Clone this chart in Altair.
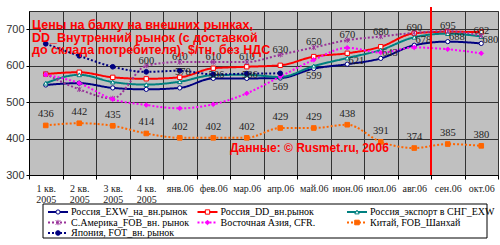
import altair as alt
import pandas as pd

categories = ["1 кв.\n2005", "2 кв.\n2005", "3 кв.\n2005", "4 кв.\n2005", "янв.06", "фев.06",
              "мар.06", "апр.06", "май.06", "июн.06", "июл.06", "авг.06", "сен.06", "окт.06"]

series_names = ["Россия_EXW_на_вн.рынок", "Россия_DD_вн.рынок", "Россия_экспорт в СНГ_EXW",
                "С.Америка_FOB_вн. рынок", "Восточная Азия, CFR.", "Китай, FOB_Шанхай",
                "Япония, FOT_вн. рынок"]

exw = [547, 552, 539, 535, 539, 565, 565, 566, 592, 604, 620, 656, 666, 661]
dd = [577, 582, 568, 564, 568, 593, 597, 601, 625, 634, 652, 689, 693, 692]
cis = [552, 575, 555, 548, 556, 574, 575, 569, 599, 621, 643, 678, 688, 680]
sam = [577, 535, 510, 600, 610, 610, 610, 630, 650, 670, 680, 690, 695, 682]
asia = [575, 552, 508, 492, 483, 494, 524, 570, 616, 649, 636, 650, 645, 634]
china = [436, 442, 435, 414, 402, 402, 402, 429, 429, 438, 391, 374, 385, 380]
japan = [660, 627, 597, 583, 586, 576, 578, 579, None, None, None, None, None, None]

sam_labels = [None, None, None, 600, 610, 610, 610, 630, 650, 670, 680, 690, 695, 682]
cis_labels = [None, None, None, None, None, None, None, 569, 599, 621, 643, 678, 688, 680]
china_labels = [436, 442, 435, 414, 402, 402, 402, 429, 429, 438, 391, 374, 385, 380]
japan_labels = [None, None, None, None, 578, 586, 586, None, None, None, None, None, None, None]

title_lines = ["Цены на балку на внешних рынках,",
               "DD_Внутренний рынок (с доставкой",
               "до склада потребителя), $/тн, без НДС"]
source_text = "Данные: © Rusmet.ru, 2006"

colors = ["#000080", "#ff0000", "#008080", "#993399", "#ff00ff", "#ff6600", "#000080"]
fills = ["#ffffff", "#ffffff", "#ffffff", "#993399", "#ff00ff", "#ff6600", "#000080"]
dashes = [[1, 0], [1, 0], [1, 0], [2, 2], [2, 2], [2, 2], [2, 2]]
widths = [2, 2, 2, 1, 1, 1, 1]
shapes = ["circle", "square", "triangle-up", "M-1,-1L1,1M-1,1L1,-1M0,-1.2L0,1.2",
          "diamond", "square", "circle"]
sizes = [18, 22, 26, 26, 28, 30, 12]

all_vals = [exw, dd, cis, sam, asia, china, japan]
rows = []
for name, vals in zip(series_names, all_vals):
    for c, v in zip(categories, vals):
        if v is not None:
            rows.append({"series": name, "cat": c, "value": v})
df = pd.DataFrame(rows)


def label_df(labels, vals):
    return pd.DataFrame([{"cat": c, "value": v, "label": l}
                         for c, v, l in zip(categories, vals, labels) if l is not None])


sam_df = label_df(sam_labels, sam)
china_df = label_df(china_labels, china)
cis_df = label_df(cis_labels, cis)
cis_df_below = cis_df[cis_df["cat"].isin(["апр.06", "май.06"])]
cis_df_right = cis_df[~cis_df["cat"].isin(["апр.06", "май.06"])]
jp_df = label_df(japan_labels, japan)

color_scale = alt.Scale(domain=series_names, range=colors)
fill_scale = alt.Scale(domain=series_names, range=fills)
dash_scale = alt.Scale(domain=series_names, range=dashes)
width_scale = alt.Scale(domain=series_names, range=widths)
shape_scale = alt.Scale(domain=series_names, range=shapes)
size_scale = alt.Scale(domain=series_names, range=sizes)

xscale = alt.Scale(type="band", domain=categories, paddingInner=0, paddingOuter=0)
X = alt.X("cat:N", scale=xscale, bandPosition=0.5,
          axis=alt.Axis(title=None, tickBand="extent", labelAngle=0,
                        labelExpr="split(datum.label, '\\n')", labelFont="Liberation Serif",
                        labelFontSize=10, labelLineHeight=11, labelColor="#222",
                        labelPadding=4, tickSize=4, tickColor="#000", domainColor="#000",
                        grid=True, gridColor="#333", gridOpacity=1, labelBaseline="top"))
Y = alt.Y("value:Q", scale=alt.Scale(domain=[300, 750], nice=False, zero=False),
          axis=alt.Axis(title=None, values=list(range(300, 751, 50)), labelFont="Liberation Sans",
                        labelFontSize=11, labelColor="#333", tickSize=3, tickColor="#000",
                        labelPadding=2, domainColor="#000", grid=True, gridColor="#333",
                        gridOpacity=1))

lines = alt.Chart(df).mark_line(interpolate="monotone").encode(
    x=X, y=Y,
    color=alt.Color("series:N", scale=color_scale, legend=None),
    strokeDash=alt.StrokeDash("series:N", scale=dash_scale, legend=None),
    strokeWidth=alt.StrokeWidth("series:N", scale=width_scale, legend=None),
)

points = alt.Chart(df).mark_point(filled=False, strokeWidth=1, opacity=1).encode(
    x=alt.X("cat:N", scale=xscale, bandPosition=0.5), y="value:Q",
    stroke=alt.Stroke("series:N", scale=color_scale, legend=None),
    fill=alt.Fill("series:N", scale=fill_scale, legend=None),
    shape=alt.Shape("series:N", scale=shape_scale, legend=None),
    size=alt.Size("series:N", scale=size_scale, legend=None),
)


def text_layer(d, dx=0, dy=0):
    return alt.Chart(d).mark_text(font="Liberation Serif", fontSize=10.5, color="#222",
                                  dx=dx, dy=dy, baseline="middle").encode(
        x=alt.X("cat:N", scale=xscale, bandPosition=0.5), y="value:Q",
        text=alt.Text("label:Q", format="d"))


t_sam = text_layer(sam_df, dy=-5)
t_china = text_layer(china_df, dy=-11)
t_cis1 = text_layer(cis_df_below, dy=10)
t_cis2 = text_layer(cis_df_right, dx=9, dy=3)
t_jp = text_layer(jp_df, dx=3, dy=1)

red_line = alt.Chart(pd.DataFrame({"cat": [categories[12]]})).mark_rule(
    color="#ff0000", strokeWidth=2).encode(
    x=alt.X("cat:N", scale=xscale, bandPosition=0), y=alt.value(-4), y2=alt.value(164))

title = alt.Chart(pd.DataFrame({"a": [0]})).mark_text(
    align="left", baseline="middle", font="Liberation Sans", fontWeight="bold",
    fontSize=12.5, lineHeight=12.5, color="#ff0000").encode(
    x=alt.value(3), y=alt.value(14), text=alt.value(title_lines))

source = alt.Chart(pd.DataFrame({"a": [0]})).mark_text(
    align="left", baseline="middle", font="Liberation Sans", fontWeight="bold",
    fontSize=12, color="#ff0000").encode(
    x=alt.value(201), y=alt.value(137), text=alt.value(source_text))

main = alt.layer(lines, points, t_sam, t_china, t_cis1, t_cis2, t_jp, red_line, title, source)

# legend drawn below
legend_df = pd.DataFrame({"series": series_names,
                          "col": [i % 3 for i in range(len(series_names))],
                          "row": [i // 3 for i in range(len(series_names))]})
LX = alt.X("col:Q", scale=alt.Scale(domain=[0, 2], range=[19, 318]), axis=None)
LY = alt.Y("row:Q", scale=alt.Scale(domain=[0, 2], range=[201, 222]), axis=None)

box = alt.Chart(pd.DataFrame({"a": [0]})).mark_rect(
    fill="#ffffff", stroke="#000", strokeWidth=1).encode(
    x=alt.value(14), x2=alt.value(458), y=alt.value(193), y2=alt.value(227))

leg_rule = alt.Chart(legend_df).mark_rule(x2Offset=20).encode(
    x=LX, x2="col:Q", y=LY,
    color=alt.Color("series:N", scale=color_scale, legend=None),
    strokeDash=alt.StrokeDash("series:N", scale=dash_scale, legend=None),
    strokeWidth=alt.StrokeWidth("series:N", scale=width_scale, legend=None),
)
leg_pts = alt.Chart(legend_df).mark_point(filled=False, strokeWidth=1, opacity=1, xOffset=10).encode(
    x=LX, y=LY,
    stroke=alt.Stroke("series:N", scale=color_scale, legend=None),
    fill=alt.Fill("series:N", scale=fill_scale, legend=None),
    shape=alt.Shape("series:N", scale=shape_scale, legend=None),
    size=alt.Size("series:N", scale=size_scale, legend=None),
)
leg_txt = alt.Chart(legend_df).mark_text(
    align="left", baseline="middle", dx=23, font="Liberation Serif", fontSize=10,
    color="#000").encode(x=LX, y=LY, text="series:N")

legend = alt.layer(box, leg_rule, leg_pts, leg_txt)

chart = alt.layer(main, legend).resolve_scale(x="independent", y="independent").properties(
    width=469, height=164,
    padding={"left": 29, "top": 11, "right": 2, "bottom": 70},
    autosize=alt.AutoSizeParams(type="none"),
    background="#ffffff",
).configure_view(fill="#c0c0c0", stroke="#333")

chart.save("out.html", embed_options={"renderer": "svg", "actions": False})
